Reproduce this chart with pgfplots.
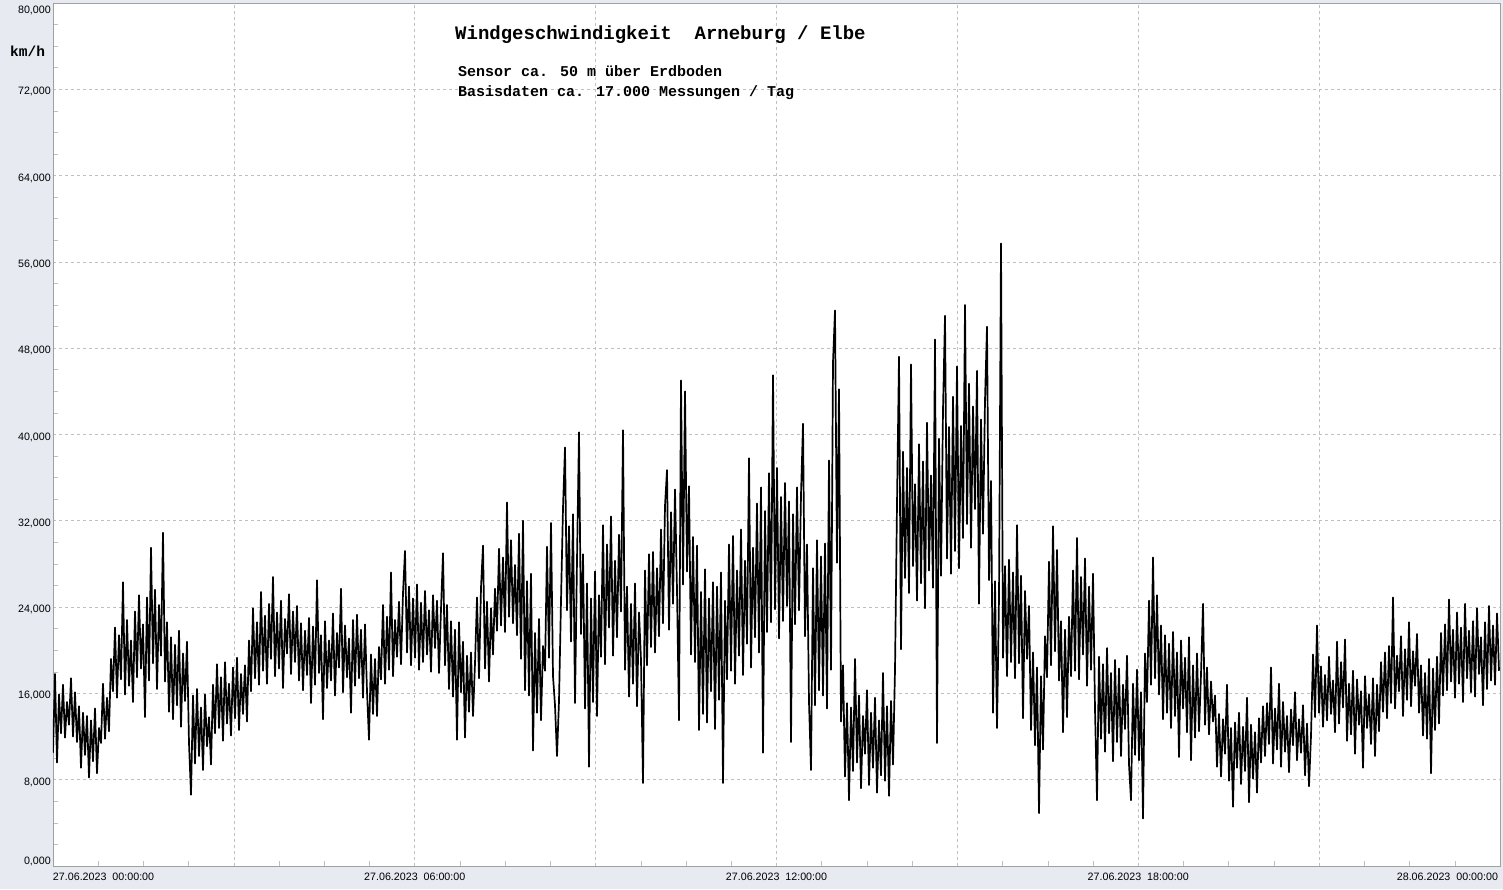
\documentclass[border=0pt]{standalone}
\usepackage{fontspec}
\setmainfont{Liberation Sans}
\newfontfamily\monofam{Liberation Mono}
\usepackage{pgfplots}
\pgfplotsset{compat=1.18}
\definecolor{bgc}{RGB}{231,234,241}
\definecolor{axc}{RGB}{160,160,160}
\definecolor{gridc}{RGB}{192,192,192}
\begin{document}
\begin{tikzpicture}
\fill[bgc] (-53pt,-23pt) rectangle (1450pt,866pt);
\begin{axis}[
  at={(0pt,0pt)}, anchor=south west,
  width=1447pt, height=863pt, scale only axis,
  xmin=0, xmax=1447, ymin=0, ymax=80,
  axis background/.style={fill=white},
  axis line style={draw=axc, line width=0.8pt},
  xtick={0,180.875,361.75,542.625,723.5,904.375,1085.25,1266.125,1447},
  xticklabels={{\makebox[0pt][l]{27.06.2023\ \ 00:00:00}},{},{27.06.2023\ \ 06:00:00},{},{27.06.2023\ \ 12:00:00},{},{27.06.2023\ \ 18:00:00},{},{\makebox[0pt][r]{28.06.2023\ \ 00:00:00\kern2pt}}},
  minor x tick num=3,
  ytick={0,8,...,80},
  yticklabels={{\raisebox{7pt}[\height][\depth]{0,000}},{8,000},{16,000},{24,000},{32,000},{40,000},{48,000},{56,000},{64,000},{72,000},{\raisebox{-5pt}[\height][\depth]{80,000}}},
  minor y tick num=3,
  tick align=inside, tick pos=left,
  major tick length=0pt, minor tick length=5pt,
  tick style={draw=gridc, line width=0.6pt},
  grid=major,
  major grid style={draw=gridc, dash pattern=on 3pt off 3pt, line width=0.7pt},
  xticklabel style={font=\fontsize{10.7}{12}\selectfont, anchor=north, inner sep=0pt, yshift=-6.7pt},
  yticklabel style={font=\fontsize{10.7}{12}\selectfont, anchor=east, inner sep=0pt, xshift=-2pt, yshift=-2.5pt},
]
\addplot[black, line width=1.7pt, line join=round] coordinates {
(0,10.5)(2,17.8)(4,9.6)(6,15.9)(8,12.3)(10,16.8)(12,11.9)(14,15.2)(16,13.1)(18,17.4)(20,12.0)(22,16.1)(24,11.5)(26,14.8)(28,9.1)(30,14.2)(32,10.3)(34,13.9)(36,8.2)(38,13.5)(40,9.7)(42,14.6)(44,8.6)(46,12.8)(48,11.4)(50,16.9)(52,11.8)(54,15.6)(56,12.5)(58,19.2)
(60,16.2)(62,22.1)(64,15.6)(66,21.4)(68,17.3)(70,26.3)(72,15.9)(74,22.8)(76,16.7)(78,20.9)(80,15.2)(82,23.6)(84,17.5)(86,25.1)(88,18.3)(90,22.4)(92,13.8)(94,24.9)(96,17.2)(98,29.5)(100,18.8)(102,25.6)(104,16.4)(106,24.2)(108,19.5)(110,30.9)(112,17.1)(114,22.6)(116,14.3)(118,21.2)
(120,13.6)(122,20.5)(124,14.9)(126,21.8)(128,12.9)(130,19.7)(132,15.3)(134,20.8)(136,11.4)(138,6.6)(140,15.8)(142,9.5)(144,16.4)(146,10.2)(148,14.7)(150,8.9)(152,15.9)(154,11.1)(156,13.8)(158,9.4)(160,16.8)(162,12.3)(164,18.7)(166,12.8)(168,17.5)(170,11.6)(172,18.9)(174,13.2)(176,16.9)(178,12.1)
(180,18.4)(182,13.7)(184,19.3)(186,12.6)(188,17.8)(190,14.1)(192,18.6)(194,13.4)(196,20.9)(198,16.2)(200,23.9)(202,17.4)(204,22.6)(206,16.8)(208,25.4)(210,18.1)(212,23.2)(214,16.9)(216,24.3)(218,19.2)(220,26.8)(222,17.6)(224,23.5)(226,18.3)(228,24.6)(230,16.5)(232,22.9)(234,19.7)(236,25.2)(238,17.8)
(240,23.6)(242,18.9)(244,24.1)(246,17.2)(248,22.5)(250,16.3)(252,21.8)(254,17.7)(256,23.0)(258,15.1)(260,22.2)(262,16.8)(264,26.5)(266,17.9)(268,21.4)(270,13.6)(272,22.7)(274,16.5)(276,20.9)(278,17.2)(280,23.4)(282,15.8)(284,21.6)(286,18.4)(288,25.7)(290,16.1)(292,22.3)(294,17.5)(296,21.1)(298,14.2)
(300,22.8)(302,16.7)(304,23.3)(306,17.4)(308,21.9)(310,15.6)(312,22.4)(314,16.2)(316,11.7)(318,19.6)(320,14.1)(322,19.2)(324,13.9)(326,20.3)(328,17.3)(330,24.2)(332,16.9)(334,23.1)(336,18.2)(338,27.2)(340,17.6)(342,22.8)(344,19.4)(346,24.5)(348,18.7)(350,25.3)(352,29.2)(354,19.8)(356,25.9)(358,18.6)
(360,24.8)(362,19.3)(364,26.1)(366,18.2)(368,24.4)(370,18.9)(372,25.5)(374,19.6)(376,23.7)(378,18.0)(380,25.1)(382,20.2)(384,24.6)(386,17.9)(388,23.8)(390,29.0)(392,18.6)(394,24.2)(396,16.4)(398,22.7)(400,15.7)(402,21.9)(404,11.7)(406,22.6)(408,16.1)(410,20.8)(412,11.9)(414,19.5)(416,14.3)(418,19.8)
(420,13.9)(422,18.8)(424,24.9)(426,17.4)(428,25.8)(430,29.7)(432,18.3)(434,24.5)(436,17.1)(438,23.9)(440,19.6)(442,25.7)(444,21.8)(446,29.4)(448,22.3)(450,28.6)(452,21.7)(454,33.7)(456,23.1)(458,30.2)(460,22.5)(462,27.9)(464,21.4)(466,30.8)(468,19.2)(470,32.0)(472,16.3)(474,26.4)(476,15.8)(478,27.1)
(480,10.7)(482,21.6)(484,14.2)(486,22.9)(488,13.5)(490,20.4)(492,18.1)(494,29.6)(496,19.3)(498,31.8)(500,17.6)(502,14.9)(504,10.2)(506,15.3)(508,24.6)(510,33.2)(512,38.8)(514,23.7)(516,31.5)(518,20.8)(520,32.6)(522,15.1)(524,28.4)(526,40.2)(528,21.5)(530,28.9)(532,14.6)(534,26.2)(536,9.2)(538,24.8)
(540,15.2)(542,27.3)(544,13.9)(546,25.1)(548,19.4)(550,31.6)(552,18.7)(554,29.8)(556,22.1)(558,32.4)(560,19.5)(562,28.3)(564,21.2)(566,30.7)(568,23.6)(570,40.4)(572,18.2)(574,25.9)(576,15.7)(578,24.3)(580,16.9)(582,26.2)(584,14.8)(586,23.5)(588,19.1)(590,7.7)(592,27.4)(594,18.6)(596,28.9)(598,20.3)
(600,29.1)(602,19.8)(604,27.6)(606,21.3)(608,31.2)(610,22.5)(612,33.4)(614,36.7)(616,21.9)(618,32.8)(620,24.3)(622,34.9)(624,25.6)(626,13.5)(628,45.0)(630,26.1)(632,44.0)(634,27.3)(636,35.2)(638,19.6)(640,30.5)(642,18.9)(644,29.7)(646,12.6)(648,25.4)(650,14.1)(652,27.5)(654,13.3)(656,24.8)(658,16.2)
(660,26.3)(662,12.7)(664,25.9)(666,15.4)(668,27.2)(670,7.7)(672,24.6)(674,17.3)(676,29.8)(678,18.1)(680,30.6)(682,16.9)(684,27.4)(686,19.5)(688,31.2)(690,17.7)(692,28.3)(694,20.6)(696,37.8)(698,18.4)(700,29.5)(702,21.2)(704,33.6)(706,19.8)(708,35.1)(710,10.5)(712,32.9)(714,21.7)(716,36.4)(718,22.6)
(720,45.5)(722,23.8)(724,36.9)(726,21.1)(728,34.2)(730,22.7)(732,35.5)(734,24.1)(736,33.8)(738,11.5)(740,32.6)(742,22.4)(744,35.1)(746,23.7)(748,34.4)(750,41.0)(752,21.3)(754,29.8)(756,15.2)(758,8.9)(760,27.6)(762,14.9)(764,30.2)(766,16.3)(768,28.7)(770,15.8)(772,29.9)(774,14.6)(776,37.6)(778,18.2)
(780,46.7)(782,51.5)(784,28.1)(786,44.2)(788,13.4)(790,18.6)(792,8.3)(794,15.1)(796,6.1)(798,14.7)(800,8.8)(802,19.2)(804,9.6)(806,15.8)(808,7.2)(810,13.9)(812,10.4)(814,16.3)(816,7.5)(818,14.2)(820,9.1)(822,15.6)(824,6.8)(826,13.5)(828,8.4)(830,17.9)(832,7.9)(834,14.8)(836,6.5)(838,15.3)
(840,9.4)(842,18.2)(844,33.6)(846,47.2)(848,20.1)(850,38.4)(852,26.7)(854,36.9)(856,25.3)(858,46.5)(860,27.8)(862,35.4)(864,24.6)(866,39.1)(868,26.2)(870,37.5)(872,23.9)(874,41.1)(876,27.4)(878,36.2)(880,25.8)(882,48.8)(884,11.4)(886,39.6)(888,26.9)(890,42.3)(892,51.0)(894,28.5)(896,40.7)(898,27.1)
(900,43.5)(902,29.2)(904,46.3)(906,27.6)(908,40.8)(910,30.4)(912,52.0)(914,31.7)(916,44.7)(918,29.5)(920,42.6)(922,33.1)(924,45.9)(926,24.3)(928,41.4)(930,30.8)(932,43.2)(934,50.0)(936,26.5)(938,35.7)(940,14.2)(942,26.4)(944,12.8)(946,24.9)(948,57.7)(950,19.3)(952,27.8)(954,17.6)(956,28.4)(958,18.9)
(960,27.2)(962,17.4)(964,31.6)(966,18.8)(968,26.9)(970,13.7)(972,25.5)(974,19.2)(976,24.1)(978,12.6)(980,19.8)(982,11.2)(984,18.4)(986,4.9)(988,17.6)(990,10.8)(992,21.3)(994,17.5)(996,28.2)(998,18.6)(1000,31.5)(1002,19.9)(1004,29.3)(1006,17.2)(1008,22.7)(1010,12.4)(1012,21.9)(1014,13.8)(1016,23.1)(1018,17.6)
(1020,27.4)(1022,18.1)(1024,30.4)(1026,17.3)(1028,26.8)(1030,19.6)(1032,28.5)(1034,16.7)(1036,25.9)(1038,18.2)(1040,27.1)(1042,14.5)(1044,6.1)(1046,19.4)(1048,11.8)(1050,18.7)(1052,10.6)(1054,20.2)(1056,12.3)(1058,17.9)(1060,9.7)(1062,19.1)(1064,11.5)(1066,18.3)(1068,10.2)(1070,16.8)(1072,12.7)(1074,19.5)(1076,9.4)(1078,6.1)
(1080,16.9)(1082,10.3)(1084,18.2)(1086,9.8)(1088,16.1)(1090,4.4)(1092,19.7)(1094,15.2)(1096,24.6)(1098,16.8)(1100,28.6)(1102,17.4)(1104,25.1)(1106,15.9)(1108,22.3)(1110,13.6)(1112,21.4)(1114,14.2)(1116,20.6)(1118,12.8)(1120,21.7)(1122,13.9)(1124,19.8)(1126,10.1)(1128,20.9)(1130,14.6)(1132,19.3)(1134,12.4)(1136,21.2)(1138,9.8)
(1140,18.6)(1142,11.9)(1144,19.7)(1146,12.5)(1148,17.8)(1150,24.3)(1152,13.1)(1154,18.4)(1156,12.2)(1158,17.1)(1160,13.4)(1162,15.8)(1164,9.2)(1166,14.1)(1168,8.3)(1170,13.6)(1172,10.4)(1174,16.8)(1176,7.9)(1178,12.8)(1180,5.5)(1182,13.3)(1184,9.1)(1186,14.2)(1188,7.6)(1190,12.9)(1192,8.8)(1194,15.6)(1196,5.9)(1198,13.1)
(1200,8.1)(1202,12.4)(1204,6.8)(1206,13.7)(1208,9.6)(1210,14.8)(1212,10.2)(1214,15.1)(1216,11.3)(1218,18.4)(1220,9.5)(1222,14.6)(1224,10.8)(1226,16.9)(1228,9.2)(1230,15.2)(1232,10.6)(1234,13.9)(1236,8.7)(1238,14.5)(1240,11.2)(1242,16.1)(1244,9.8)(1246,13.6)(1248,10.5)(1250,14.9)(1252,8.4)(1254,13.2)(1256,7.4)(1258,12.1)
(1260,19.6)(1262,13.8)(1264,22.3)(1266,14.2)(1268,18.5)(1270,12.9)(1272,17.7)(1274,13.5)(1276,19.4)(1278,14.1)(1280,17.2)(1282,12.4)(1284,20.8)(1286,13.2)(1288,18.9)(1290,14.7)(1292,21.0)(1294,11.6)(1296,16.9)(1298,12.2)(1300,18.1)(1302,10.4)(1304,17.3)(1306,13.1)(1308,16.2)(1310,9.1)(1312,17.6)(1314,12.8)(1316,15.9)(1318,11.3)
(1320,17.4)(1322,10.2)(1324,16.8)(1326,12.5)(1328,18.9)(1330,14.3)(1332,19.8)(1334,13.7)(1336,20.4)(1338,15.1)(1340,24.9)(1342,14.6)(1344,19.5)(1346,16.2)(1348,21.3)(1350,13.9)(1352,20.1)(1354,15.4)(1356,22.6)(1358,14.8)(1360,19.9)(1362,16.7)(1364,21.5)(1366,14.2)(1368,18.6)(1370,12.1)(1372,17.9)(1374,11.8)(1376,19.2)(1378,8.6)
(1380,18.3)(1382,12.6)(1384,19.4)(1386,13.2)(1388,21.6)(1390,15.8)(1392,22.4)(1394,16.3)(1396,24.7)(1398,17.1)(1400,21.9)(1402,15.6)(1404,23.5)(1406,16.9)(1408,22.1)(1410,15.2)(1412,24.3)(1414,17.4)(1416,21.8)(1418,16.1)(1420,22.7)(1422,15.7)(1424,23.9)(1426,17.8)(1428,21.2)(1430,14.9)(1432,22.6)(1434,16.4)(1436,24.1)(1438,17.2)
(1440,22.3)(1442,16.8)(1444,23.4)(1446,18.1)
};
\end{axis}
\node[anchor=base west, inner sep=0pt, font={\monofam\bfseries\fontsize{19}{22}\selectfont}] at (402pt,826pt) {Windgeschwindigkeit\ \ Arneburg / Elbe};
\node[anchor=base west, inner sep=0pt, font={\monofam\bfseries\fontsize{15}{18}\selectfont}] at (405pt,789pt) {Sensor ca. 50 m über Erdboden};
\node[anchor=base west, inner sep=0pt, font={\monofam\bfseries\fontsize{15}{18}\selectfont}] at (405pt,769pt) {Basisdaten ca. 17.000 Messungen / Tag};
\node[anchor=base west, inner sep=0pt, font={\monofam\bfseries\fontsize{14.5}{17}\selectfont}] at (-43pt,809pt) {km/h};
\pgfresetboundingbox
\useasboundingbox (-53pt,-23pt) rectangle (1450pt,866pt);
\end{tikzpicture}
\end{document}
